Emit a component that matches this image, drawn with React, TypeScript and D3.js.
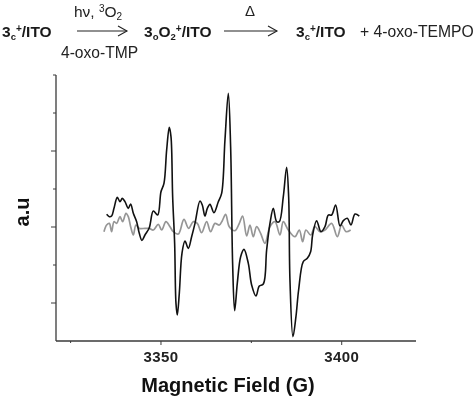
import React from "react";
import * as d3 from "d3";

// field in G, intensity in a.u. (one y tick = 1)
const blackField = [3334.97,3335.71,3336.35,3337.0,3337.92,3338.66,3339.3,3340.04,3340.96,3341.61,3342.35,3343.27,3344.0,3344.74,3345.57,3346.77,3347.88,3349.08,3350.0,3350.83,3351.57,3352.3,3352.77,3353.23,3353.78,3354.15,3354.52,3355.07,3355.81,3356.64,3357.56,3358.48,3359.41,3360.79,3361.43,3362.17,3362.82,3363.56,3364.66,3365.86,3366.78,3367.7,3368.63,3369.27,3369.82,3370.38,3371.11,3372.04,3372.96,3374.16,3375.08,3376.28,3377.2,3378.31,3379.23,3380.15,3381.07,3382.0,3382.73,3383.84,3384.76,3385.32,3385.68,3386.51,3387.34,3388.08,3389.37,3390.48,3391.4,3391.95,3393.06,3394.26,3395.37,3396.29,3397.21,3398.32,3399.52,3400.44,3401.54,3402.56,3403.67,3404.86];
const blackValues = [0.333,0.272,0.289,0.491,0.78,0.666,0.754,0.666,0.491,0.605,0.359,0.14,-0.167,-0.351,-0.211,-0.018,0.421,0.315,0.929,1.149,2.026,2.622,2.377,0.798,-0.43,-2.009,-2.316,-1.746,-0.693,-0.369,-0.562,-0.255,0.096,0.684,0.578,0.289,0.491,0.596,0.377,0.666,0.886,2.289,3.517,2.114,-0.957,-2.202,-1.483,-0.781,-0.588,-0.957,-1.527,-1.816,-1.553,-1.501,-0.606,0.096,0.491,0.14,0.14,0.798,1.57,0.798,-1.395,-2.886,-2.36,-1.658,-0.913,-0.825,-0.65,-0.211,0.166,-0.123,0.008,0.315,0.315,0.578,0.026,0.166,0.228,0.052,0.342,0.289];

const greyField = [3334.23,3334.97,3335.71,3336.35,3337.0,3337.74,3338.66,3339.4,3340.32,3340.96,3341.61,3342.35,3343.08,3344.0,3345.57,3346.77,3347.88,3349.26,3350.19,3351.38,3352.49,3353.41,3354.8,3356.36,3357.65,3358.95,3360.05,3361.25,3362.63,3363.74,3364.94,3366.14,3366.97,3367.89,3368.9,3370.47,3371.67,3372.59,3373.7,3374.62,3375.54,3376.46,3377.57,3378.77,3380.15,3381.53,3382.92,3383.84,3385.22,3387.07,3388.27,3389.19,3390.11,3391.4,3392.6,3393.98,3395.37,3397.21,3398.78,3399.98,3401.18,3402.47];
const greyValues = [-0.123,0.052,0.096,-0.123,0.14,0.096,0.272,0.14,0.359,0.272,0.008,-0.211,0.052,-0.036,-0.036,-0.036,-0.079,0.07,-0.079,0.14,0.008,-0.123,-0.185,0.201,-0.036,0.14,0.096,-0.15,0.14,-0.123,0.096,0.052,0.166,0.333,0.008,-0.097,0.096,0.289,-0.237,0.052,-0.255,0.008,-0.167,-0.43,0.008,0.14,-0.211,0.14,-0.079,-0.255,-0.079,-0.386,-0.079,-0.211,0.008,-0.123,-0.079,0.096,-0.255,0.052,-0.123,-0.079];

const xTicks = [3325, 3350, 3375, 3400];
const xTickLabels = ["", "3350", "", "3400"];
const yTicks = [-2, -1, 0, 1, 2, 3, 4];
const yMajor = [-2, 0, 2];

const width = 474;
const height = 397;
const font = "'Liberation Sans', Arial, sans-serif";
const axisColor = "#3a3a3a";

const x = d3.scaleLinear().domain([3320.96, 3420.55]).range([56, 416]);
const y = d3.scaleLinear().domain([-3, 4]).range([341, 75]);

function trace(fields: number[], values: number[]) {
  const line = d3.line<number>()
    .x((d) => x(d))
    .y((_, i) => y(values[i]))
    .curve(d3.curveCatmullRom.alpha(0.5));
  return line(fields) || "";
}

function Arrow({ x1, x2, yy }: { x1: number; x2: number; yy: number }) {
  return (
    <g stroke="#222" strokeWidth={1.1} fill="none">
      <line x1={x1} x2={x2} y1={yy} y2={yy} />
      <path d={`M${x2 - 9},${yy - 5}L${x2},${yy}L${x2 - 9},${yy + 5}`} />
    </g>
  );
}

// 3c+/ITO style labels, sub and sup written out with dy
function Species({ tx, sub, oxygen }: { tx: number; sub: string; oxygen?: boolean }) {
  return (
    <text x={tx} y={37} fontSize={15.5} fontWeight="bold" fill="#1a1a1a">
      3<tspan fontSize={9.5} dy={3}>{sub}</tspan>
      {oxygen ? (
        <>
          <tspan dy={-3}>O</tspan>
          <tspan fontSize={9.5} dy={3}>2</tspan>
        </>
      ) : null}
      <tspan fontSize={10} dy={-8}>+</tspan>
      <tspan dy={5}>/ITO</tspan>
    </text>
  );
}

export default function App() {
  return (
    <svg width={width} height={height} style={{ position: "absolute", left: 0, top: 0, background: "#fff", filter: "blur(0.35px)" }} fontFamily={font}>
      <Species tx={2} sub="c" />
      <Arrow x1={77} x2={127} yy={31} />
      <text x={74} y={17} fontSize={15.5} fill="#222">
        hν, <tspan fontSize={10} dy={-5}>3</tspan>
        <tspan dy={5}>O</tspan>
        <tspan fontSize={10} dy={3}>2</tspan>
      </text>
      <text x={61} y={58} fontSize={15.6} fill="#222">4-oxo-TMP</text>
      <Species tx={144} sub="o" oxygen />
      <Arrow x1={224} x2={277} yy={31} />
      <text x={250} y={16} fontSize={15} textAnchor="middle" fill="#222">Δ</text>
      <Species tx={296} sub="c" />
      <text x={360} y={37} fontSize={15.7} fill="#222">+ 4-oxo-TEMPO</text>

      {/* axes */}
      <g stroke={axisColor} fill="none">
        <line x1={56} x2={56} y1={75} y2={341} strokeWidth={1.3} />
        <line x1={56} x2={416} y1={341} y2={341} strokeWidth={1.3} />
        {yTicks.map((t) => (
          <line key={t} x1={yMajor.includes(t) ? 51 : 53} x2={56} y1={y(t)} y2={y(t)} />
        ))}
        {xTicks.map((t) => (
          <line key={t} x1={x(t)} x2={x(t)} y1={341} y2={t % 50 === 0 ? 345 : 343} />
        ))}
      </g>
      {xTicks.map((t, i) => (
        <text key={t} x={x(t)} y={362} textAnchor="middle" fontSize={15} fontWeight="bold" fill="#222" letterSpacing={0.4}>
          {xTickLabels[i]}
        </text>
      ))}

      <path d={trace(greyField, greyValues)} fill="none" stroke="#969696" strokeWidth={1.7} />
      <path d={trace(blackField, blackValues)} fill="none" stroke="#111" strokeWidth={1.6} />

      <text x={228} y={392} textAnchor="middle" fontSize={20} fontWeight="bold" fill="#111">Magnetic Field (G)</text>
      <text transform="translate(29,212) rotate(-90)" textAnchor="middle" fontSize={20} fontWeight="bold" fill="#111">a.u</text>
    </svg>
  );
}
